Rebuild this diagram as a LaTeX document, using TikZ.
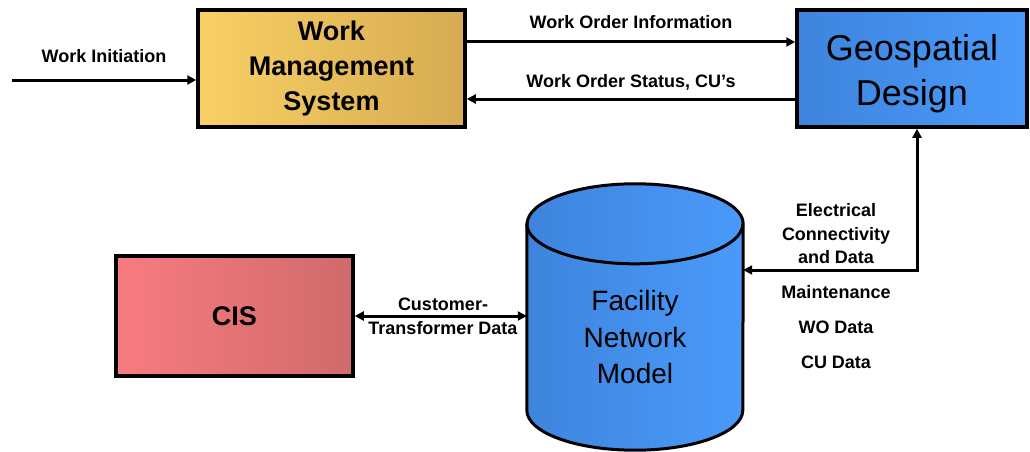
\documentclass[tikz,border=0pt]{standalone}
\usepackage{fontspec}
\setmainfont{Liberation Sans}
\usetikzlibrary{arrows.meta,positioning,calc}
\definecolor{WmsLight}{HTML}{F9D064}
\definecolor{WmsDark}{HTML}{D6AB52}
\definecolor{GeoDark}{HTML}{3E84DC}
\definecolor{GeoLight}{HTML}{4A9AFB}
\definecolor{CisLight}{HTML}{F87C80}
\definecolor{CisDark}{HTML}{D06A6B}

\begin{document}
\begin{tikzpicture}[x=1pt,y=-1pt,
    sysbox/.style={draw=black,line width=3.5pt,inner sep=0pt,align=center},
    flow/.style={line width=3pt,-{Triangle[length=9pt,width=9pt]}},
    flowboth/.style={line width=3pt,{Triangle[length=9pt,width=9pt]}-{Triangle[length=9pt,width=9pt]}},
    flowlbl/.style={font=\fontsize{18}{23.5}\selectfont\bfseries,align=center,inner sep=0pt}]
    \useasboundingbox (0,0) rectangle (1030,452);
    % systems
    \node[sysbox,left color=WmsLight,right color=WmsDark,minimum width=267pt,minimum height=117pt,
      font=\fontsize{27}{35}\selectfont\bfseries] (wms) at (331.5,68.5) {Work\\Management\\System};
    \node[sysbox,left color=GeoDark,right color=GeoLight,minimum width=230pt,minimum height=117pt,
      font=\fontsize{36}{45}\selectfont] (geo) at (912,68.5) {\rule{0pt}{37pt}Geospatial\\Design};
    \node[sysbox,left color=CisLight,right color=CisDark,minimum width=237pt,minimum height=120pt,
      font=\fontsize{27}{33}\selectfont\bfseries] (cis) at (234.5,316) {CIS};
    % database cylinder
    \node[minimum width=216pt,minimum height=186pt,inner sep=0pt] (fnm) at (635,317) {};
    \path[left color=GeoDark,right color=GeoLight,draw=black,line width=3pt]
      (fnm.north west) -- (fnm.south west)
      arc[start angle=180,end angle=360,x radius=108pt,y radius=40pt]
      -- (fnm.north east)
      arc[start angle=0,end angle=180,x radius=108pt,y radius=40pt] -- cycle;
    \draw[line width=3pt] (fnm.north west) arc[start angle=180,end angle=360,x radius=108pt,y radius=40pt];
    \node[font=\fontsize{28}{36.5}\selectfont,align=center] (fnmtxt) at (635,337) {Facility\\Network\\Model};
    % flows
    \coordinate (init) at (12,80);
    \draw[flow] (init) -- (init -| wms.west);
    \node[flowlbl] (initlbl) at (104,56) {Work Initiation};
    \draw[flow] ($(wms.east)+(0,-26.5)$) -- ($(geo.west)+(0,-26.5)$);
    \node[flowlbl] (wolbl) at (631,22) {Work Order Information};
    \draw[flow] ($(geo.west)+(0,30.5)$) -- ($(wms.east)+(0,30.5)$);
    \node[flowlbl] (statlbl) at (631,82) {Work Order Status, CU's};
    \draw[flowboth] ($(fnm.east)+(0,-47)$) -| ($(geo.south)+(5,0)$);
    \node[flowlbl] (eleclbl) at (836,234) {Electrical\\Connectivity\\and Data};
    \node[flowlbl] (maintlbl) at (836,292) {Maintenance};
    \node[flowlbl] (wolbl2) at (836,327) {WO Data};
    \node[flowlbl] (culbl) at (836,362) {CU Data};
    \draw[flowboth] (cis.east) -- (cis.east -| fnm.west);
    \node[flowlbl] (custlbl) at (443,316.5) {Customer-\\Transformer Data};
\end{tikzpicture}
\end{document}
